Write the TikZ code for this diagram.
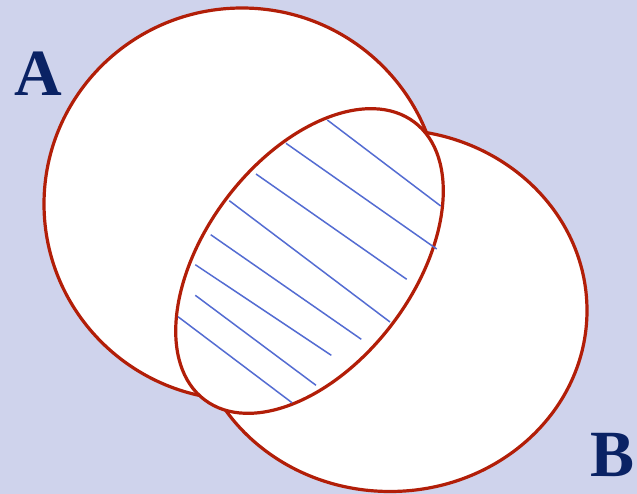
\documentclass[tikz,border=0pt]{standalone}
\usepackage{fontspec}
\setmainfont{Liberation Serif}
\usepackage{xcolor}
\usepackage{tikz}
\definecolor{bgblue}{RGB}{207,211,236}
\definecolor{setred}{RGB}{178,30,8}
\definecolor{hatchblue}{RGB}{84,108,210}
\definecolor{labelnavy}{RGB}{10,34,100}

\begin{document}
\begin{tikzpicture}[
    x=1pt, y=-1pt,
    setline/.style={draw=setred, line width=3.2pt, fill=white},
    hatch/.style={draw=hatchblue, line width=1.5pt},
    lbl/.style={text=labelnavy, font=\fontsize{66}{66}\selectfont\bfseries, inner sep=0pt}
]
    \fill[bgblue] (0,0) rectangle (637,494);
    \useasboundingbox (0,0) rectangle (637,494);

    % the two sets
    \path[setline] (242,204) ellipse [x radius=198, y radius=196];
    \path[setline] (390,310.5) ellipse [x radius=197, y radius=181];
    % their intersection, hatched
    \path[setline, rotate around={52.9:(309.5,261)}] (309.5,261) ellipse [x radius=174, y radius=104];
    \foreach \xa/\ya/\xb/\yb in {327.3/120/440.7/206, 286/143.3/436.7/249,
        256/174/406.7/279.3, 229.3/200.7/390/322, 210.7/234.7/361.3/339.3,
        195.3/264.7/331.3/355.3, 195.3/295.3/316/385.3, 178/316.7/292/402.7}
        \draw[hatch] (\xa,\ya) -- (\xb,\yb);

    \node[lbl] (setA) at (38.5,73.5) {A};
    \node[lbl] (setB) at (613,454.5) {B};
\end{tikzpicture}
\end{document}
